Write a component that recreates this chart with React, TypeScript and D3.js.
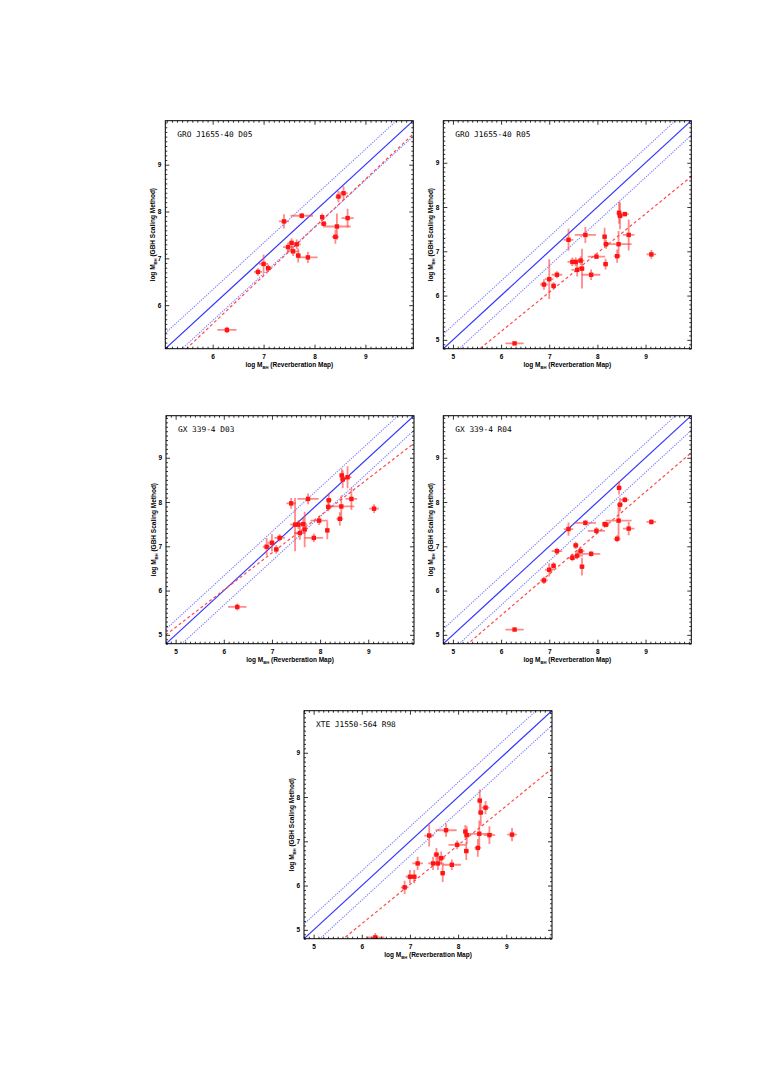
import React, { useEffect, useRef } from 'react';
import * as d3 from 'd3';

// reverberation-map masses (shared by every panel) and their errors
const xRM = [6.28, 6.89, 7.0, 7.09, 7.16, 7.4, 7.48, 7.55, 7.58, 7.65, 7.68, 7.75, 7.87, 7.98, 8.15, 8.17, 8.18, 8.41, 8.44, 8.45, 8.47, 8.57, 8.65, 9.12];
const xErrRM = [0.19, 0.08, 0.09, 0.05, 0.11, 0.1, 0.1, 0.06, 0.12, 0.08, 0.05, 0.22, 0.19, 0.18, 0.04, 0.05, 0.06, 0.07, 0.27, 0.05, 0.06, 0.08, 0.12, 0.1];

// GBH scaling masses, one array per reference source (NaN = not in that sample)
const yD05 = [5.47, 6.71, 6.88, 6.79, NaN, 7.79, 7.24, 7.33, 7.15, 7.3, 7.06, 7.91, 7.02, NaN, 7.88, NaN, 7.74, 7.46, 7.68, NaN, 8.32, 8.39, 7.86, NaN];
const eD05 = [0.07, 0.08, 0.2, 0.08, 0, 0.15, 0.1, 0.1, 0.1, 0.1, 0.15, 0.06, 0.12, 0, 0.08, 0, 0.06, 0.15, 0.28, 0, 0.12, 0.15, 0.2, 0];

const yR05 = [4.92, 6.25, 6.37, 6.22, 6.47, 7.26, 6.76, 6.76, 6.58, 6.79, 6.61, 7.37, 6.47, 6.88, 7.33, 6.71, 7.16, 6.89, 7.16, 7.87, 7.8, 7.84, 7.37, 6.93];
const eR05 = [0.03, 0.12, 0.45, 0.08, 0.08, 0.25, 0.1, 0.1, 0.15, 0.1, 0.45, 0.18, 0.12, 0.05, 0.2, 0.12, 0.1, 0.15, 0.3, 0.25, 0.3, 0.05, 0.35, 0.1];

const yD03 = [5.63, 6.99, 7.08, 6.93, 7.19, 7.97, 7.49, 7.49, 7.3, 7.5, 7.38, 8.07, 7.19, 7.58, 7.36, 7.89, 8.04, 7.62, 7.9, 8.6, 8.51, 8.56, 8.07, 7.85];
const eD03 = [0.08, 0.2, 0.2, 0.1, 0.08, 0.12, 0.6, 0.1, 0.15, 0.15, 0.4, 0.12, 0.1, 0.1, 0.2, 0.1, 0.15, 0.15, 0.25, 0.15, 0.2, 0.25, 0.25, 0.1];

const yR04 = [5.12, 6.23, 6.47, 6.56, 6.89, 7.39, 6.74, 7.02, 6.79, 6.89, 6.54, 7.53, 6.83, 7.35, 7.5, NaN, 7.49, 7.17, 7.58, 8.32, 7.94, 8.05, 7.4, 7.55];
const eR04 = [0.03, 0.08, 0.15, 0.08, 0.08, 0.15, 0.08, 0.08, 0.08, 0.08, 0.2, 0.06, 0.06, 0.08, 0.06, 0, 0.06, 0.08, 0.4, 0.15, 0.15, 0.06, 0.15, 0.06];

const yR98 = [4.83, 5.96, 6.2, 6.2, 6.5, 7.13, 6.5, 6.7, 6.5, 6.62, 6.28, 7.25, 6.47, 6.92, 7.22, 6.78, 7.14, 6.85, 7.17, 7.92, 7.65, 7.76, 7.14, 7.15];
const eR98 = [0.1, 0.15, 0.15, 0.15, 0.15, 0.25, 0.15, 0.15, 0.15, 0.15, 0.2, 0.15, 0.12, 0.1, 0.15, 0.2, 0.2, 0.2, 0.3, 0.25, 0.3, 0.15, 0.2, 0.15];

const titles = ['GRO J1655-40 D05', 'GRO J1655-40 R05', 'GX 339-4 D03', 'GX 339-4 R04', 'XTE J1550-564 R98'];
const fitSlope = [1.03, 0.886, 0.84, 0.93, 0.887];
const fitIntercept = [-0.58, -0.127, 0.97, -0.14, -0.185];
const domains: [number, number][] = [[5.07, 9.94], [4.8, 9.95], [4.8, 9.95], [4.8, 9.95], [4.8, 9.95]];
const scatterOffset = 0.33;

const yValues = [yD05, yR05, yD03, yR04, yR98];
const yErrors = [eD05, eR05, eD03, eR04, eR98];

const panelW = 248;
const panelH = 228;
const panelPos = [[165.3, 120.7], [443.3, 120.7], [166, 415.7], [443.3, 415.7], [304, 710.7]];

const App = () => {
  const ref = useRef<SVGSVGElement>(null);

  useEffect(() => {
    const svg = d3.select(ref.current);
    svg.selectAll('*').remove();

    titles.forEach((title, i) => {
      const [left, top] = panelPos[i];
      const [d0, d1] = domains[i];
      const x = d3.scaleLinear().domain([d0, d1]).range([0, panelW]);
      const y = d3.scaleLinear().domain([d0, d1]).range([panelH, 0]);

      const g = svg.append('g').attr('transform', `translate(${left},${top})`);
      const clipId = `clip-${i}`;
      g.append('clipPath').attr('id', clipId)
        .append('rect').attr('width', panelW).attr('height', panelH);
      const plot = g.append('g').attr('clip-path', `url(#${clipId})`);

      const span = [d0 - 1, d1 + 1];
      const line = (f: (v: number) => number) =>
        d3.line<number>().x(v => x(v)).y(v => y(f(v)))(span);

      // one-to-one line and its scatter band
      [-scatterOffset, scatterOffset].forEach(off => {
        plot.append('path').attr('d', line(v => v + off))
          .attr('fill', 'none').attr('stroke', '#7a7aff')
          .attr('stroke-width', 1.1).attr('stroke-dasharray', '1.2 1.2');
      });
      plot.append('path').attr('d', line(v => v))
        .attr('fill', 'none').attr('stroke', '#3434ff').attr('stroke-width', 1.2);

      // best fit
      plot.append('path').attr('d', line(v => fitSlope[i] * v + fitIntercept[i]))
        .attr('fill', 'none').attr('stroke', '#ff4a4a')
        .attr('stroke-width', 1.2).attr('stroke-dasharray', '3 2.5');

      const ys = yValues[i];
      const es = yErrors[i];
      const idx = d3.range(xRM.length).filter(k => !isNaN(ys[k]));

      const bars = plot.append('g').attr('stroke', '#ff3c3c')
        .attr('stroke-opacity', 0.6).attr('stroke-width', 1.8);
      bars.selectAll('line.h').data(idx).join('line').attr('class', 'h')
        .attr('x1', k => x(xRM[k] - xErrRM[k])).attr('x2', k => x(xRM[k] + xErrRM[k]))
        .attr('y1', k => y(ys[k])).attr('y2', k => y(ys[k]));
      bars.selectAll('line.v').data(idx).join('line').attr('class', 'v')
        .attr('x1', k => x(xRM[k])).attr('x2', k => x(xRM[k]))
        .attr('y1', k => y(ys[k] - es[k])).attr('y2', k => y(ys[k] + es[k]));

      plot.append('g').selectAll('rect').data(idx).join('rect')
        .attr('x', k => x(xRM[k]) - 2.2).attr('y', k => y(ys[k]) - 2.2)
        .attr('width', 4.4).attr('height', 4.4).attr('fill', '#ff1414');

      // axes with inward ticks on all four sides
      const major = d3.range(Math.ceil(d0), Math.floor(d1) + 1);
      const minor = d3.range(Math.ceil(d0 * 10), Math.floor(d1 * 10) + 1)
        .map(v => v / 10).filter(v => Math.abs(v - Math.round(v)) > 1e-6);

      const style = (sel: any) => {
        sel.select('.domain').remove();
        sel.selectAll('line').attr('stroke', '#000').attr('stroke-width', 0.8);
        sel.selectAll('text').attr('font-family', 'Liberation Sans, Arial, sans-serif')
          .attr('font-size', 6.5).attr('font-weight', 'bold').attr('fill', '#000');
      };

      const axes: [any, string, number[], number, boolean][] = [
        [d3.axisBottom(x), `translate(0,${panelH})`, major, -4, true],
        [d3.axisBottom(x), `translate(0,${panelH})`, minor, -2, false],
        [d3.axisTop(x), 'translate(0,0)', major, -4, false],
        [d3.axisTop(x), 'translate(0,0)', minor, -2, false],
        [d3.axisLeft(y), 'translate(0,0)', major, -4, true],
        [d3.axisLeft(y), 'translate(0,0)', minor, -2, false],
        [d3.axisRight(y), `translate(${panelW},0)`, major, -4, false],
        [d3.axisRight(y), `translate(${panelW},0)`, minor, -2, false],
      ];
      axes.forEach(([ax, tr, vals, size, labels], a) => {
        const axis = ax.tickValues(vals).tickSize(size)
          .tickPadding(a < 2 ? 6 : 4)
          .tickFormat(labels ? d3.format('d') : () => '');
        g.append('g').attr('transform', tr).call(axis).call(style);
      });

      g.append('rect').attr('width', panelW).attr('height', panelH)
        .attr('fill', 'none').attr('stroke', '#000').attr('stroke-width', 1);

      g.append('text').attr('x', 12).attr('y', 16)
        .attr('font-family', 'DejaVu Sans Mono, Liberation Mono, monospace')
        .attr('font-size', 7.8).attr('fill', '#000').text(title);

      const axisTitle = (sel: any, rest: string) => {
        sel.attr('font-family', 'Liberation Sans, Arial, sans-serif')
          .attr('font-size', 6.5).attr('font-weight', 'bold').attr('text-anchor', 'middle');
        sel.append('tspan').text('log M');
        sel.append('tspan').attr('font-size', 4.2).attr('dy', 1.5).text('BH');
        sel.append('tspan').attr('dy', -1.5).text(rest);
      };

      g.append('text').attr('x', panelW / 2).attr('y', panelH + 18.5)
        .call(axisTitle, ' (Reverberation Map)');
      g.append('text')
        .attr('transform', `translate(-10,${panelH / 2}) rotate(-90)`)
        .call(axisTitle, ' (GBH Scaling Method)');
    });

    return () => {
      svg.selectAll('*').remove();
    };
  }, []);

  return (
    <svg ref={ref} width={763} height={1080}
      style={{ position: 'absolute', left: 0, top: 0, background: '#fff' }} />
  );
};

export default App;
